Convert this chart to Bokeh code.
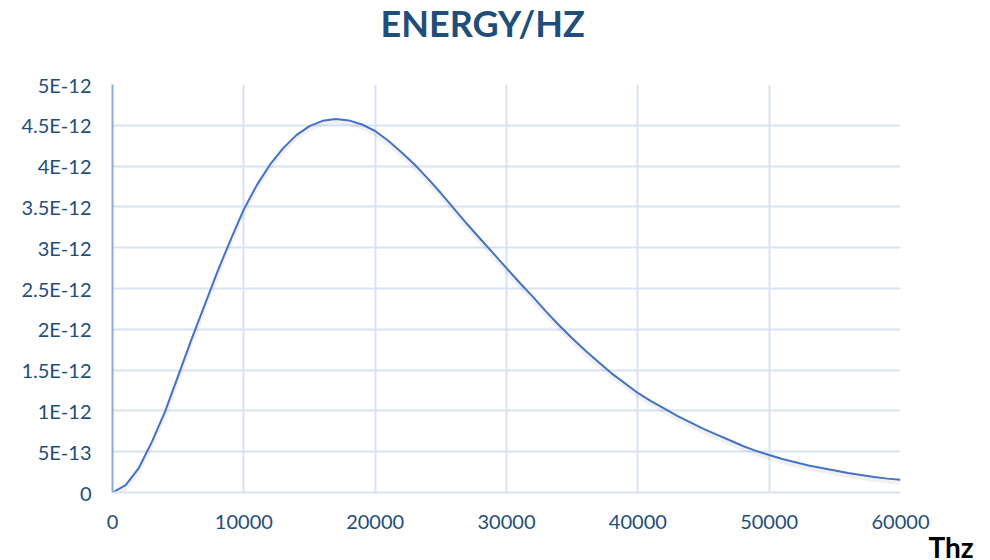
from bokeh.plotting import figure
from bokeh.models import Range1d, FixedTicker, Label
from bokeh.embed import file_html
from bokeh.resources import INLINE

# ---- data ----
freq_thz = [0, 1000, 2000, 3000, 4000, 5000, 6000, 7000, 8000, 9000,
            10000, 11000, 12000, 13000, 14000, 15000, 16000, 17000, 18000, 19000,
            20000, 21000, 22000, 23000, 24000, 25000, 26000, 27000, 28000, 29000,
            30000, 31000, 32000, 33000, 34000, 35000, 36000, 37000, 38000, 39000,
            40000, 41000, 42000, 43000, 44000, 45000, 46000, 47000, 48000, 49000,
            50000, 51000, 52000, 53000, 54000, 55000, 56000, 57000, 58000, 59000,
            60000]
energy_e12 = [0.0, 0.09, 0.30, 0.62, 0.99, 1.43, 1.87, 2.29, 2.71, 3.10,
              3.47, 3.77, 4.02, 4.22, 4.38, 4.49, 4.555, 4.577, 4.56, 4.51,
              4.43, 4.31, 4.17, 4.02, 3.85, 3.67, 3.48, 3.29, 3.11, 2.93,
              2.75, 2.57, 2.40, 2.22, 2.05, 1.89, 1.74, 1.60, 1.46, 1.34,
              1.22, 1.12, 1.03, 0.94, 0.86, 0.78, 0.71, 0.64, 0.57, 0.51,
              0.46, 0.41, 0.37, 0.33, 0.30, 0.27, 0.24, 0.215, 0.19, 0.17,
              0.155]
energy = [v * 1e-12 for v in energy_e12]

x_ticks = [0, 10000, 20000, 30000, 40000, 50000, 60000]
x_tick_labels = ["0", "10000", "20000", "30000", "40000", "50000", "60000"]
y_ticks = [0, 5e-13, 1e-12, 1.5e-12, 2e-12, 2.5e-12, 3e-12, 3.5e-12, 4e-12, 4.5e-12, 5e-12]
y_tick_labels = ["0", "5E-13", "1E-12", "1.5E-12", "2E-12", "2.5E-12", "3E-12",
                 "3.5E-12", "4E-12", "4.5E-12", "5E-12"]
title_text = "ENERGY/HZ"
x_title = "Thz"

# ---- styles ----
TXT = "#1F4E79"
GRID = "#D9E2F3"
LINE = "#4472C4"
FONT = "Lato"

p = figure(width=990, height=560, output_backend="svg", toolbar_location=None,
           title=None,
           x_range=Range1d(0, 60000), y_range=Range1d(0, 5e-12),
           min_border_left=112, min_border_right=90, min_border_top=84,
           min_border_bottom=68, outline_line_color=None)

# soft shadow under the curve (drawn on a range shifted a few pixels)
px = 5e-12 / 408.0
p.extra_y_ranges = {"shadow": Range1d(0 + 3 * px, 5e-12 + 3 * px)}
p.line(freq_thz, energy, line_color="#000000", line_alpha=0.06, line_width=4,
       y_range_name="shadow")
p.line(freq_thz, energy, line_color=LINE, line_width=2)

p.xaxis.ticker = FixedTicker(ticks=x_ticks)
p.yaxis.ticker = FixedTicker(ticks=y_ticks)
p.xaxis.major_label_overrides = dict(zip(x_ticks, x_tick_labels))
p.yaxis.major_label_overrides = dict(zip(y_ticks, y_tick_labels))

for ax in (p.xaxis, p.yaxis):
    ax.major_tick_in = 0
    ax.major_tick_out = 0
    ax.minor_tick_in = 0
    ax.minor_tick_out = 0
    ax.major_label_text_font = FONT
    ax.major_label_text_font_size = "20px"
    ax.major_label_text_color = TXT
p.xaxis.major_label_standoff = 22
p.yaxis.major_label_standoff = 21
p.xaxis.axis_line_color = GRID
p.xaxis.axis_line_width = 2
p.yaxis.axis_line_color = "#8EAADB"
p.yaxis.axis_line_width = 2

p.grid.grid_line_color = GRID
p.grid.grid_line_width = 2

# chart title and x-axis title, placed in side panels (not clipped to the frame)
p.add_layout(Label(x=380, y=22, x_units="canvas", y_units="canvas", text=title_text,
                   text_font=FONT, text_font_size="36px", text_font_style="bold",
                   text_color=TXT, text_align="left", text_baseline="alphabetic"),
             "above")
p.add_layout(Label(x=928, y=546, x_units="canvas", y_units="canvas", text=x_title,
                   text_font=FONT, text_font_size="28px", text_font_style="bold",
                   text_color="#000000", text_align="left", text_baseline="alphabetic"),
             "right")

open("out.html", "w").write(file_html(p, INLINE))
